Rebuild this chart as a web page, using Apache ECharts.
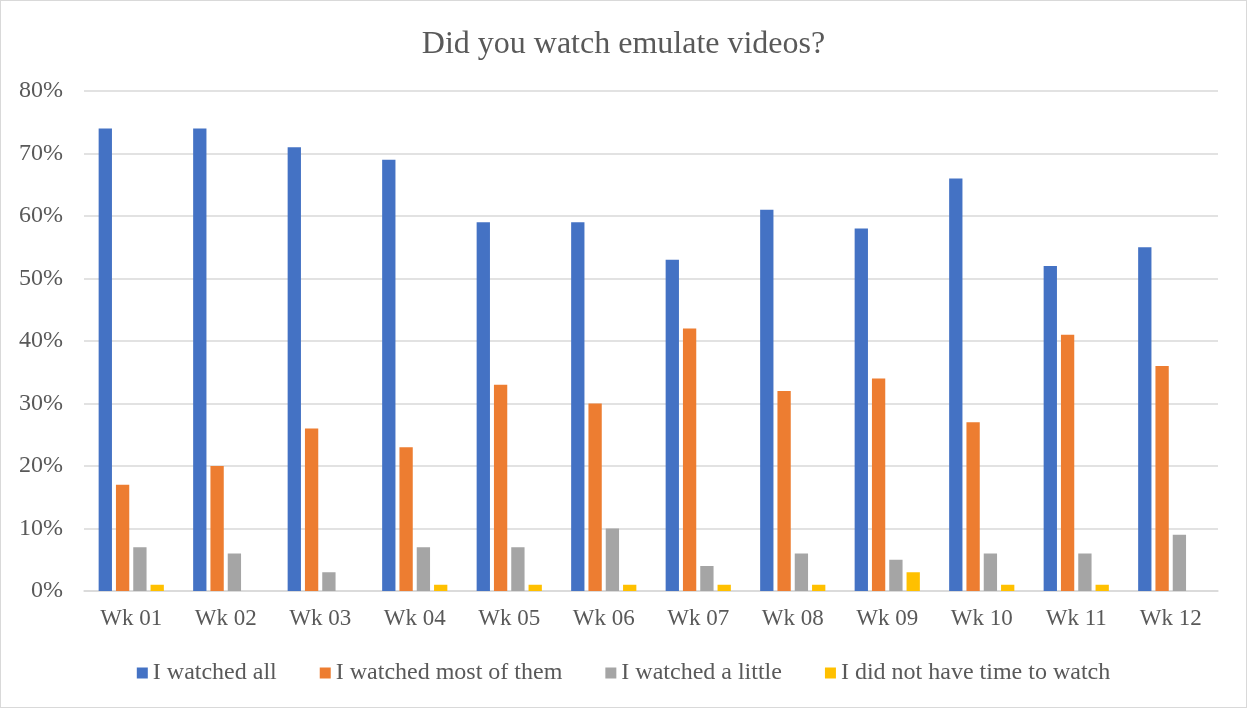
<!DOCTYPE html>
<html><head><meta charset="utf-8">
<script src="https://cdn.jsdelivr.net/npm/echarts@6/dist/echarts.min.js"></script>
<style>html,body{margin:0;padding:0;background:#fff}#c{width:1247px;height:708px;box-sizing:border-box;border:1px solid #d9d9d9}</style>
</head><body><div id="c"></div>
<script>
const categories = ['Wk 01','Wk 02','Wk 03','Wk 04','Wk 05','Wk 06','Wk 07','Wk 08','Wk 09','Wk 10','Wk 11','Wk 12'];
const watchedAll = [74,74,71,69,59,59,53,61,58,66,52,55];
const watchedMost = [17,20,26,23,33,30,42,32,34,27,41,36];
const watchedLittle = [7,6,3,7,7,10,4,6,5,6,6,9];
const noTime = [1,0,0,1,1,1,1,1,3,1,1,0];
const seriesNames = ['I watched all','I watched most of them','I watched a little','I did not have time to watch'];
const colors = ['#4472C4','#ED7D31','#A5A5A5','#FFC000'];
const font = 'Liberation Serif, Times New Roman, serif';
const chart = echarts.init(document.getElementById('c'));
const data = [watchedAll, watchedMost, watchedLittle, noTime];
chart.setOption({
  animation:false,
  color: colors,
  title:{text:'Did you watch emulate videos?', left:'center', top:23, textStyle:{fontFamily:font, fontSize:32, fontWeight:'normal', color:'#595959'}},
  legend:{top:655, left:'center', itemWidth:11, itemHeight:11, itemGap:43, icon:'rect', textStyle:{fontFamily:font, fontSize:24, color:'#595959'}},
  grid:{left:83, right:28, top:90, bottom:116},
  xAxis:{type:'category', data:categories, axisTick:{show:false}, axisLine:{lineStyle:{color:'#d9d9d9', width:1.5}}, axisLabel:{fontFamily:font, fontSize:23, color:'#595959', margin:16}},
  yAxis:{type:'value', min:0, max:80, interval:10, axisLabel:{formatter:'{value}%', fontFamily:font, fontSize:24, color:'#595959', margin:21}, splitLine:{lineStyle:{color:'#d9d9d9', width:1.5}}},
  series: data.map((d,i)=>({name:seriesNames[i], type:'bar', data:d, barGap:'30%', barCategoryGap:'31%', itemStyle:{color:colors[i]}}))
});
</script></body></html>
